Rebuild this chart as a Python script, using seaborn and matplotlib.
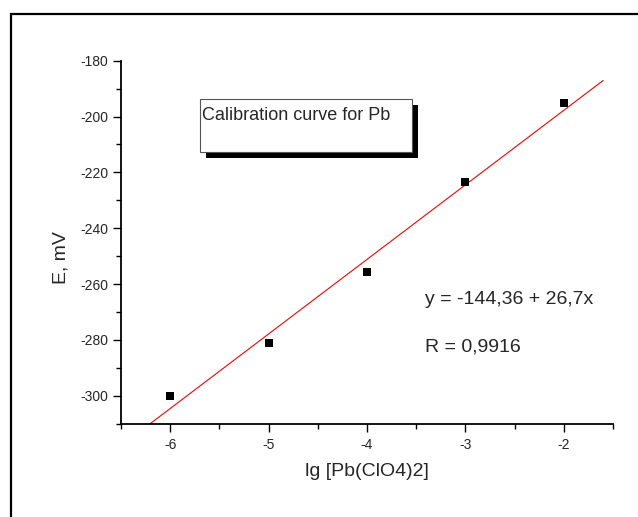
import numpy as np
import pandas as pd
import matplotlib
matplotlib.use("Agg")
import matplotlib.pyplot as plt
from matplotlib.patches import Rectangle
from matplotlib.ticker import MultipleLocator, FuncFormatter
import seaborn as sns

lg_conc = [-6, -5, -4, -3, -2]
potential = [-300.0, -281.2, -255.6, -223.3, -195.2]

# linear fit as printed on the chart
intercept = -144.36
slope = 26.7
r_value = "0,9916"
fit_x_range = (-6.4, -1.6)

data = pd.DataFrame({"lg": lg_conc, "E": potential})
fit = pd.DataFrame({"lg": list(fit_x_range)})
fit["E"] = intercept + slope * fit["lg"]

sns.set_style("ticks")
plt.rcParams["font.family"] = ["Liberation Sans", "DejaVu Sans"]
plt.rcParams["axes.unicode_minus"] = False

W, H = 638, 517
fig = plt.figure(figsize=(W / 100, H / 100), dpi=100)
ax = fig.add_axes([121 / W, 1 - 423.7 / H, (613 - 121) / W, (423.7 - 60.7) / H])

sns.lineplot(data=fit, x="lg", y="E", ax=ax, color="#ff0000", linewidth=0.8)
sns.scatterplot(data=data, x="lg", y="E", ax=ax, marker="s", color="black",
                s=34, edgecolor="none", zorder=3)

ax.set_xlim(-6.5, -1.5)
ax.set_ylim(-310, -180)
ax.xaxis.set_major_locator(MultipleLocator(1))
ax.xaxis.set_minor_locator(MultipleLocator(0.5))
ax.yaxis.set_major_locator(MultipleLocator(20))
ax.yaxis.set_minor_locator(MultipleLocator(10))
ax.tick_params(which="major", length=5.5, width=1, labelsize=10, pad=3.5,
               direction="out", color="black")
ax.tick_params(which="minor", length=3.5, width=1, direction="out", color="black")
ax.tick_params(axis="x", pad=5)
ax.xaxis.set_major_formatter(FuncFormatter(lambda v, p: f"{v:.0f}"))
ax.yaxis.set_major_formatter(FuncFormatter(lambda v, p: f"{v:.0f}"))
sns.despine(ax=ax)
for side in ["left", "bottom"]:
    ax.spines[side].set_linewidth(1.3)
    ax.spines[side].set_color("black")

ax.set_xlabel("")
ax.set_ylabel("")
fig.text(366.7 / W, 1 - 471.7 / H, "lg [Pb(ClO4)2]", fontsize=14,
         ha="center", va="center")
fig.text(61 / W, 1 - 257.5 / H, "E, mV", fontsize=14, rotation=90,
         ha="center", va="center")

# title box with drop shadow
bx, by, bw, bh = 200, 99, 211.7, 53.3
fig.patches.append(Rectangle(((bx + 6) / W, 1 - (by + bh + 6) / H), bw / W, bh / H,
                             transform=fig.transFigure, facecolor="black",
                             edgecolor="none", zorder=5))
fig.patches.append(Rectangle((bx / W, 1 - (by + bh) / H), bw / W, bh / H,
                             transform=fig.transFigure, facecolor="white",
                             edgecolor="#555555", linewidth=0.8, zorder=6))
fig.text(202.5 / W, 1 - 115 / H, "Calibration curve for Pb", fontsize=13,
         ha="left", va="center", zorder=7)

fig.text(425 / W, 1 - 300 / H, f"y = {intercept:.2f} + {slope}x".replace(".", ","),
         fontsize=14, ha="left", va="center")
fig.text(425 / W, 1 - 347 / H, f"R = {r_value}", fontsize=14, ha="left", va="center")

# outer frame (only top and left edges fall inside the picture)
fig.patches.append(Rectangle((11 / W, -0.1), 1.2, 1.1 - 14 / H,
                             transform=fig.transFigure, facecolor="none",
                             edgecolor="black", linewidth=1.6, zorder=1))

fig.savefig("out.png", dpi=100)
